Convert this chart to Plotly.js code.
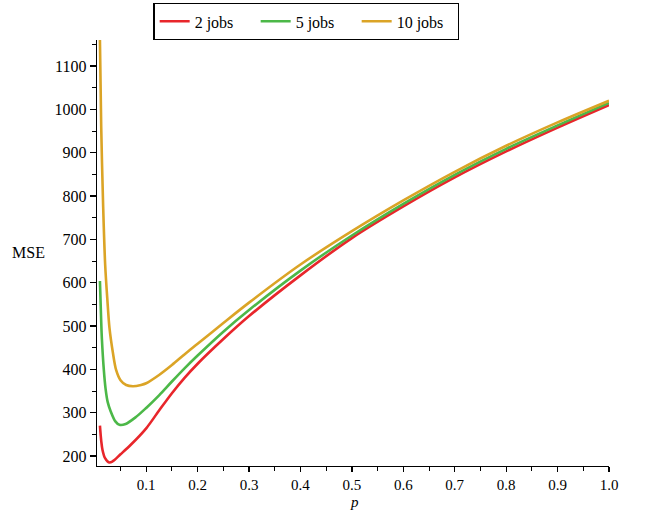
<!DOCTYPE html>
<html>
<head>
<meta charset="utf-8">
<script src="https://cdn.plot.ly/plotly-3.0.1.min.js"></script>
<style>html,body{margin:0;padding:0;background:#fff;}#chart{width:645px;height:512px;}</style>
</head>
<body>
<div id="chart"></div>
<script>
// Data
const seriesNames = ["2 jobs", "5 jobs", "10 jobs"];
const seriesColors = ["#e8262b", "#4cb848", "#dba426"];

const p2 = [0.01, 0.0125, 0.015, 0.02, 0.028, 0.035, 0.05, 0.07, 0.1, 0.125, 0.15, 0.175, 0.2, 0.25, 0.3, 0.4, 0.5, 0.6, 0.7, 0.8, 0.9, 1.0];
const mse2 = [270, 235, 214, 195, 185, 188, 204, 226, 264, 305, 345, 381, 413, 470, 523, 617, 703, 776, 843, 903, 958, 1010];

const p5 = [0.01, 0.0125, 0.0138, 0.0175, 0.021, 0.025, 0.031, 0.04, 0.048, 0.06, 0.08, 0.1, 0.125, 0.15, 0.175, 0.2, 0.25, 0.3, 0.4, 0.5, 0.6, 0.7, 0.8, 0.9, 1.0];
const mse5 = [604, 509, 470, 400, 355, 325, 303, 280, 272, 274, 290, 311, 340, 372, 403, 432, 487, 537, 628, 709, 782, 849, 909, 963, 1015];

const p10 = [0.01, 0.0125, 0.0163, 0.0202, 0.0245, 0.0286, 0.035, 0.0416, 0.05, 0.061, 0.074, 0.09, 0.1, 0.125, 0.15, 0.175, 0.2, 0.25, 0.3, 0.4, 0.5, 0.6, 0.7, 0.8, 0.9, 1.0];
const mse10 = [1160, 958, 775, 641, 560, 495, 440, 398, 375, 364, 361, 364, 368, 387, 410, 435, 459, 507, 554, 642, 719, 790, 856, 916, 970, 1020];

const xs = [p2, p5, p10];
const ys = [mse2, mse5, mse10];

const traces = xs.map((x, i) => ({
  x: x, y: ys[i], type: "scatter", mode: "lines", name: seriesNames[i],
  line: {color: seriesColors[i], width: 2.6, shape: "spline", smoothing: 0.9}
}));

const serif = "Liberation Serif, Times New Roman, serif";

const layout = {
  width: 645, height: 512,
  margin: {l: 97, r: 36, t: 40, b: 46},
  paper_bgcolor: "#fff", plot_bgcolor: "#fff",
  font: {family: serif, size: 16, color: "#000"},
  showlegend: true,
  legend: {
    orientation: "h", xref: "container", yref: "container",
    x: 0.475, xanchor: "center", y: 0.994, yanchor: "top",
    bordercolor: "#000", borderwidth: 1.3, bgcolor: "#fff",
    font: {family: serif, size: 16, color: "#000"},
    tracegroupgap: 0, entrywidth: 56
  },
  xaxis: {
    range: [0.0043, 1.0], showgrid: false, zeroline: false,
    showline: true, linecolor: "#000", linewidth: 1.3,
    ticks: "outside", ticklen: 5, tickwidth: 1.3, tickcolor: "#000",
    tick0: 0, dtick: 0.1, tickformat: ".1f",
    minor: {dtick: 0.05, tick0: 0, ticks: "outside", ticklen: 4, tickwidth: 1, tickcolor: "#000", showgrid: false},
    tickfont: {family: serif, size: 15, color: "#000"}
  },
  yaxis: {
    range: [177, 1160], showgrid: false, zeroline: false,
    showline: true, linecolor: "#000", linewidth: 1.3,
    ticks: "outside", ticklen: 6, tickwidth: 1.3, tickcolor: "#000",
    tick0: 0, dtick: 100,
    minor: {dtick: 50, tick0: 0, ticks: "outside", ticklen: 4, tickwidth: 1, tickcolor: "#000", showgrid: false},
    tickfont: {family: serif, size: 16, color: "#000"}
  },
  annotations: [
    {text: "MSE", xref: "paper", yref: "paper", x: -0.0976, y: 0.502, xanchor: "right", yanchor: "middle",
     showarrow: false, font: {family: serif, size: 16, color: "#000"}},
    {text: "<i>p</i>", xref: "paper", yref: "paper", x: 0.5036, y: -0.1045, xanchor: "center", yanchor: "bottom",
     showarrow: false, borderpad: 0, font: {family: serif, size: 15, color: "#000"}}
  ]
};

Plotly.newPlot("chart", traces, layout, {displayModeBar: false, staticPlot: true});
</script>
</body>
</html>
